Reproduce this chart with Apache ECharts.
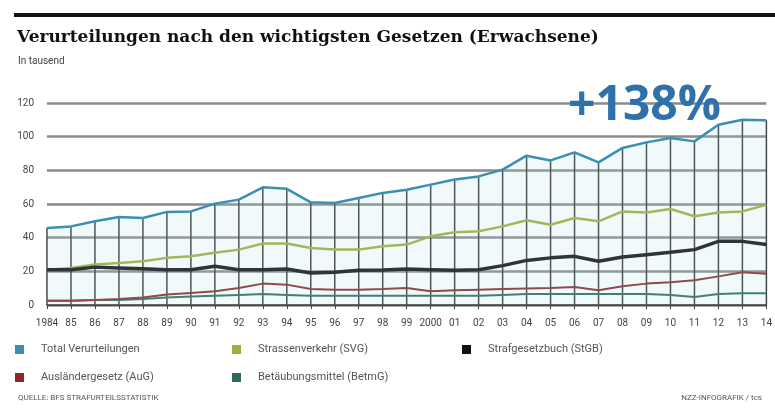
<!DOCTYPE html>
<html>
<head>
<meta charset="utf-8">
<script src="https://cdn.jsdelivr.net/npm/echarts@6/dist/echarts.min.js"></script>
<style>
  html, body {margin: 0; padding: 0; background: #fff;}
  #chart {width: 775px; height: 410px;}
</style>
</head>
<body>
<div id="chart"></div>
<script>
// Verurteilungen Erwachsene, in tausend, 1984-2014
const years = ['1984', '85', '86', '87', '88', '89', '90', '91', '92', '93', '94', '95', '96', '97', '98', '99',
  '2000', '01', '02', '03', '04', '05', '06', '07', '08', '09', '10', '11', '12', '13', '14']
const total = [45.8, 46.7, 49.7, 52.3, 51.7, 55.3, 55.6, 60.2, 62.6, 69.9, 69, 61, 60.6, 63.6, 66.6, 68.5,
  71.5, 74.5, 76.4, 80.4, 88.7, 85.9, 90.7, 84.7, 93.3, 96.6, 99.2, 97.2, 107.1, 110.1, 109.7]
const svg = [21, 22, 24, 25, 26, 28, 29, 31, 32.9, 36.5, 36.5, 33.9, 32.9, 32.9, 34.9, 35.9,
  40.8, 43.2, 43.8, 46.7, 50.3, 47.7, 51.7, 49.7, 55.6, 55, 57, 52.7, 55, 55.6, 59.6]
const stgb = [21, 21, 22.5, 22, 21.5, 21, 21, 23, 21, 21, 21.4, 19, 19.4, 20.6, 20.8, 21.4,
  21, 20.6, 21, 23.4, 26.5, 28, 28.9, 26, 28.5, 29.9, 31.3, 32.9, 37.8, 37.8, 35.9]
const aug = [2.5, 2.5, 3, 3.5, 4.5, 6.2, 7.2, 8.1, 10.1, 12.7, 12.1, 9.5, 9.1, 9.1, 9.5, 10.1,
  8.1, 8.7, 9.1, 9.5, 9.8, 10.1, 10.7, 8.7, 11.1, 12.7, 13.5, 14.7, 17, 19.4, 18.6]
const betmg = [2.5, 2.5, 3, 3, 3.5, 4.5, 5, 5.5, 6, 6.5, 6, 5.5, 5.5, 5.5, 5.5, 5.5,
  5.5, 5.5, 5.5, 6, 6.5, 6.5, 6.5, 6.5, 6.5, 6.5, 6, 4.8, 6.5, 7, 7]
const yMin = 0
const yMax = 120
const yStep = 20

const names = {
  total: 'Total Verurteilungen',
  svg: 'Strassenverkehr (SVG)',
  stgb: 'Strafgesetzbuch (StGB)',
  aug: 'Ausländergesetz (AuG)',
  betmg: 'Betäubungsmittel (BetmG)',
}

const sans = '"Liberation Sans Narrow", "Roboto", "Liberation Sans", sans-serif'
const legendText = {color: '#555', fontSize: 11, fontFamily: sans, padding: [0, 0, 0, 12]}

const legendCol = (left, data) => ({
  left,
  top: 339,
  orient: 'vertical',
  itemGap: 17,
  itemWidth: 9,
  itemHeight: 9,
  icon: 'rect',
  selectedMode: false,
  textStyle: legendText,
  data,
})

const lineSeries = (name, data, color, width, z) => ({
  name,
  type: 'line',
  data,
  symbol: 'none',
  z,
  itemStyle: {color},
  lineStyle: {color, width},
})

const chart = echarts.init(document.getElementById('chart'))
chart.setOption({
  animation: false,
  backgroundColor: '#fff',
  title: [
    {
      text: 'Verurteilungen nach den wichtigsten Gesetzen (Erwachsene)',
      left: 12,
      top: 24,
      textStyle: {fontFamily: '"DejaVu Serif", serif', fontWeight: 'bold', fontSize: 17, color: '#111'},
    },
    {
      text: 'In tausend',
      left: 13,
      top: 51,
      textStyle: {fontFamily: sans, fontWeight: 'normal', fontSize: 10, color: '#444'},
    },
    {
      text: '+138%',
      left: 563,
      top: 77,
      z: 20,
      textStyle: {fontFamily: '"Open Sans", sans-serif', fontWeight: 'bold', fontSize: 48, color: '#2f71aa'},
    },
    {
      text: 'QUELLE: BFS STRAFURTEILSSTATISTIK',
      left: 13,
      top: 389,
      textStyle: {fontFamily: sans, fontWeight: 'normal', fontSize: 8, color: '#555'},
    },
    {
      text: 'NZZ-INFOGRAFIK / tcs',
      right: 8,
      top: 389,
      textStyle: {fontFamily: sans, fontWeight: 'normal', fontSize: 8, color: '#555'},
    },
  ],
  graphic: [
    {type: 'rect', left: 14, top: 13, shape: {width: 761, height: 4}, style: {fill: '#111'}},
  ],
  legend: [
    legendCol(10, [names.total, names.aug]),
    legendCol(227, [names.svg, names.betmg]),
    legendCol(457, [names.stgb]),
  ],
  grid: {left: 47, right: 6, top: 103, bottom: 105},
  xAxis: {
    type: 'category',
    data: years,
    boundaryGap: false,
    axisLine: {show: true, lineStyle: {color: '#333', width: 1.5}},
    axisTick: {show: true, length: 4, lineStyle: {color: '#444'}},
    axisLabel: {color: '#444', fontSize: 10, fontFamily: sans, margin: 13, interval: 0},
    splitLine: {show: false},
  },
  yAxis: {
    type: 'value',
    min: yMin,
    max: yMax,
    interval: yStep,
    axisLine: {show: false},
    axisTick: {show: false},
    axisLabel: {color: '#444', fontSize: 10, fontFamily: sans, margin: 13},
    splitLine: {lineStyle: {color: '#8a8a8a', width: 2.5}},
  },
  series: [
    {
      // senkrechte Rasterlinien bis zur Total-Kurve
      name: 'raster',
      type: 'bar',
      data: total,
      barWidth: 1.5,
      clip: false,
      silent: true,
      z: 1,
      itemStyle: {color: '#3a3a3a'},
    },
    {
      ...lineSeries(names.total, total, '#3a8fb3', 2.5, 5),
      areaStyle: {color: 'rgba(170, 225, 235, 0.25)'},
    },
    lineSeries(names.svg, svg, '#a3ad3c', 2.5, 4),
    lineSeries(names.betmg, betmg, '#2e6a5c', 2, 3),
    lineSeries(names.aug, aug, '#8a2a30', 2, 3),
    lineSeries(names.stgb, stgb, '#111', 3.5, 4),
  ],
})
</script>
</body>
</html>
